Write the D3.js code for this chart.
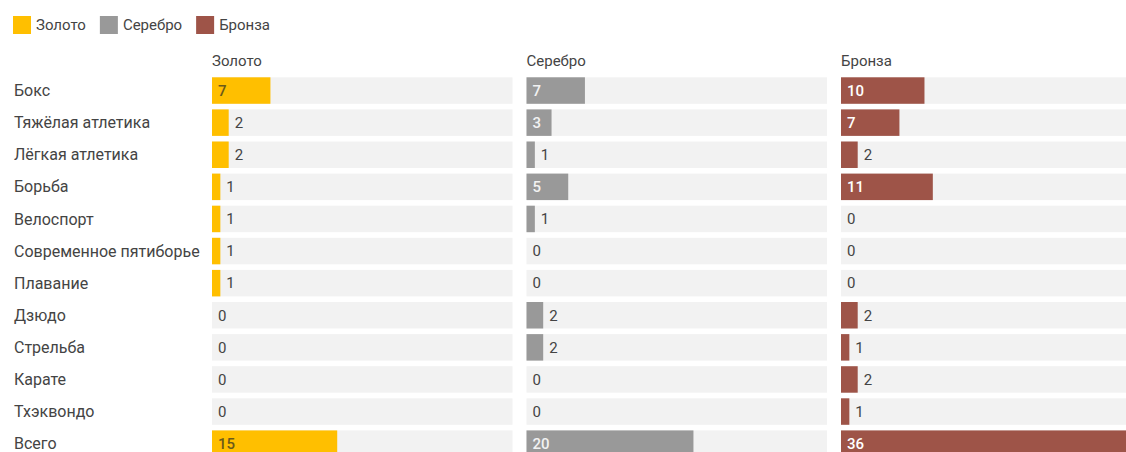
<!DOCTYPE html>
<html>
<head>
<meta charset="utf-8">
<script src="https://cdn.jsdelivr.net/npm/d3@7"></script>
<style>
  body { margin: 0; background: #fff; }
  text { font-family: Roboto, "Noto Sans", sans-serif; }
</style>
</head>
<body>
<script>
const sports = ["Бокс", "Тяжёлая атлетика", "Лёгкая атлетика", "Борьба", "Велоспорт", "Современное пятиборье", "Плавание", "Дзюдо", "Стрельба", "Карате", "Тхэквондо", "Всего"];
const medals = ["Золото", "Серебро", "Бронза"];
const gold = [7, 2, 2, 1, 1, 1, 1, 0, 0, 0, 0, 15];
const silver = [7, 3, 1, 5, 1, 0, 0, 2, 2, 0, 0, 20];
const bronze = [10, 7, 2, 11, 0, 0, 0, 2, 1, 2, 1, 36];

const W = 1126;
const H = 452;
const colors = {"Золото": "#ffbf00", "Серебро": "#999999", "Бронза": "#9e5448"};
const insideText = {"Золото": "#6b5a1a", "Серебро": "#f2f2f2", "Бронза": "#ffffff"};
const series = {"Золото": gold, "Серебро": silver, "Бронза": bronze};

const svg = d3.select("body")
  .append("svg")
  .attr("width", W)
  .attr("height", H);

// legend
const legend = svg.append("g");
let lx = 13;
medals.forEach(m => {
  legend.append("rect")
    .attr("x", lx).attr("y", 16)
    .attr("width", 18).attr("height", 18)
    .attr("fill", colors[m]);
  const t = legend.append("text")
    .attr("x", lx + 23).attr("y", 30)
    .style("font-size", "15px")
    .attr("fill", "#444")
    .text(m);
  lx += 23 + t.node().getComputedTextLength() + 14;
});

const yScale = d3.scaleBand()
  .domain(sports)
  .range([77.3, 77.3 + 12 * 32.1 - 5.6])
  .paddingInner(0.175);

const colScale = d3.scaleBand()
  .domain(medals)
  .range([212, 212 + 3 * 314.5 - 14])
  .paddingInner(14 / 314.5);

const xScale = d3.scaleLinear()
  .domain([0, 36])
  .range([0, colScale.bandwidth()]);

// row labels
svg.append("g").selectAll("text")
  .data(sports)
  .enter()
  .append("text")
  .attr("x", 14)
  .attr("y", d => yScale(d) + yScale.bandwidth() / 2)
  .attr("dy", "0.35em")
  .style("font-size", "16px")
  .attr("fill", "#444")
  .text(d => d);

medals.forEach(m => {
  const g = svg.append("g")
    .attr("transform", `translate(${colScale(m)},0)`);

  g.append("text")
    .attr("x", 0).attr("y", 66)
    .style("font-size", "15px")
    .attr("fill", "#444")
    .text(m);

  const rows = series[m].map((v, i) => ({sport: sports[i], value: v}));

  g.selectAll(".track")
    .data(rows)
    .enter()
    .append("rect")
    .attr("class", "track")
    .attr("x", 0)
    .attr("y", d => yScale(d.sport))
    .attr("width", colScale.bandwidth())
    .attr("height", yScale.bandwidth())
    .attr("fill", "#f2f2f2");

  g.selectAll(".bar")
    .data(rows)
    .enter()
    .append("rect")
    .attr("class", "bar")
    .attr("x", 0)
    .attr("y", d => yScale(d.sport))
    .attr("width", d => xScale(d.value))
    .attr("height", yScale.bandwidth())
    .attr("fill", colors[m]);

  g.selectAll(".val")
    .data(rows)
    .enter()
    .append("text")
    .attr("class", "val")
    .attr("x", d => xScale(d.value) > 20 ? 6 : xScale(d.value) + 6)
    .attr("y", d => yScale(d.sport) + yScale.bandwidth() / 2)
    .attr("dy", "0.35em")
    .style("font-size", "15px")
    .style("font-weight", d => xScale(d.value) > 20 ? "500" : "400")
    .attr("fill", d => xScale(d.value) > 20 ? insideText[m] : "#444")
    .text(d => d.value);
});
</script>
</body>
</html>
